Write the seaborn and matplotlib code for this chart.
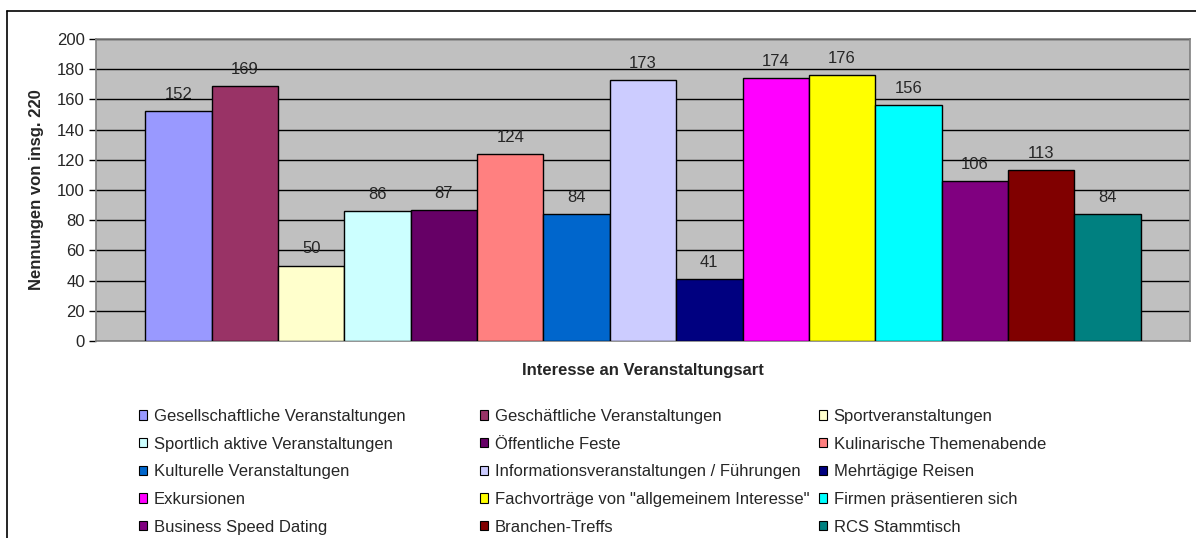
import matplotlib
matplotlib.use("Agg")
from matplotlib import pyplot as plt
from matplotlib.patches import Patch
from matplotlib.lines import Line2D
import pandas as pd
import seaborn as sns

# data
categories = [
    "Gesellschaftliche Veranstaltungen",
    "Geschäftliche Veranstaltungen",
    "Sportveranstaltungen",
    "Sportlich aktive Veranstaltungen",
    "Öffentliche Feste",
    "Kulinarische Themenabende",
    "Kulturelle Veranstaltungen",
    "Informationsveranstaltungen / Führungen",
    "Mehrtägige Reisen",
    "Exkursionen",
    'Fachvorträge von "allgemeinem Interesse"',
    "Firmen präsentieren sich",
    "Business Speed Dating",
    "Branchen-Treffs",
    "RCS Stammtisch",
]
values = [152, 169, 50, 86, 87, 124, 84, 173, 41, 174, 176, 156, 106, 113, 84]
colors = ["#9999FF", "#993366", "#FFFFCC", "#CCFFFF", "#660066", "#FF8080",
          "#0066CC", "#CCCCFF", "#000080", "#FF00FF", "#FFFF00", "#00FFFF",
          "#800080", "#800000", "#008080"]
y_ticks = list(range(0, 201, 20))

sns.set_style("white")
plt.rcParams["font.family"] = ["Liberation Sans", "DejaVu Sans"]

W, H = 1196, 538
fig = plt.figure(figsize=(W / 100, H / 100), dpi=100)
ax = fig.add_axes([96 / W, 1 - 341 / H, (1190 - 96) / W, (341 - 39) / H])

df = pd.DataFrame({"grp": ["a"] * len(values), "cat": categories, "val": values})
sns.barplot(data=df, x="grp", y="val", hue="cat", hue_order=categories,
            palette=colors, width=0.91, edgecolor="black", linewidth=1,
            saturation=1, legend=False, ax=ax, zorder=3)

for cont in ax.containers:
    ax.bar_label(cont, padding=6.5, fontsize=12)

ax.set_facecolor("#C0C0C0")
ax.set_xlim(-0.5, 0.5)
ax.set_ylim(0, 200)
ax.set_yticks(y_ticks)
ax.set_xticks([])
ax.set_xlabel("")
ax.set_ylabel("")
ax.yaxis.grid(True, color="black", linewidth=1, zorder=0)
ax.set_axisbelow(True)
ax.tick_params(axis="y", left=True, length=5, width=1, color="black",
               labelsize=12, pad=3)
for s in ax.spines.values():
    s.set_color("#808080")
    s.set_linewidth(1.2)

fig.text(37 / W, 1 - 190 / H, "Nennungen von insg. 220", rotation=90,
         ha="center", va="center", fontsize=12, fontweight="bold")
fig.text(643 / W, 1 - 370 / H, "Interesse an Veranstaltungsart",
         ha="center", va="center", fontsize=12, fontweight="bold")

# legend: three columns, row-wise order as in the reference
col_x = [139, 480, 819]
for c in range(3):
    idx = list(range(c, len(categories), 3))
    handles = [Patch(facecolor=colors[i], edgecolor="black", linewidth=0.8) for i in idx]
    labels = [categories[i] for i in idx]
    fig.legend(handles, labels, loc="upper left",
               bbox_to_anchor=(col_x[c] / W, 1 - 409 / H), frameon=False,
               fontsize=12, handlelength=0.48, handleheight=0.48,
               handletextpad=0.4, labelspacing=0.76, borderpad=0,
               borderaxespad=0)

# chart area border (top and left visible)
fig.add_artist(Line2D([7 / W, 1], [1 - 11 / H, 1 - 11 / H], color="black", linewidth=1.2))
fig.add_artist(Line2D([7 / W, 7 / W], [0, 1 - 11 / H], color="black", linewidth=1.2))

fig.savefig("out.png", dpi=100)
